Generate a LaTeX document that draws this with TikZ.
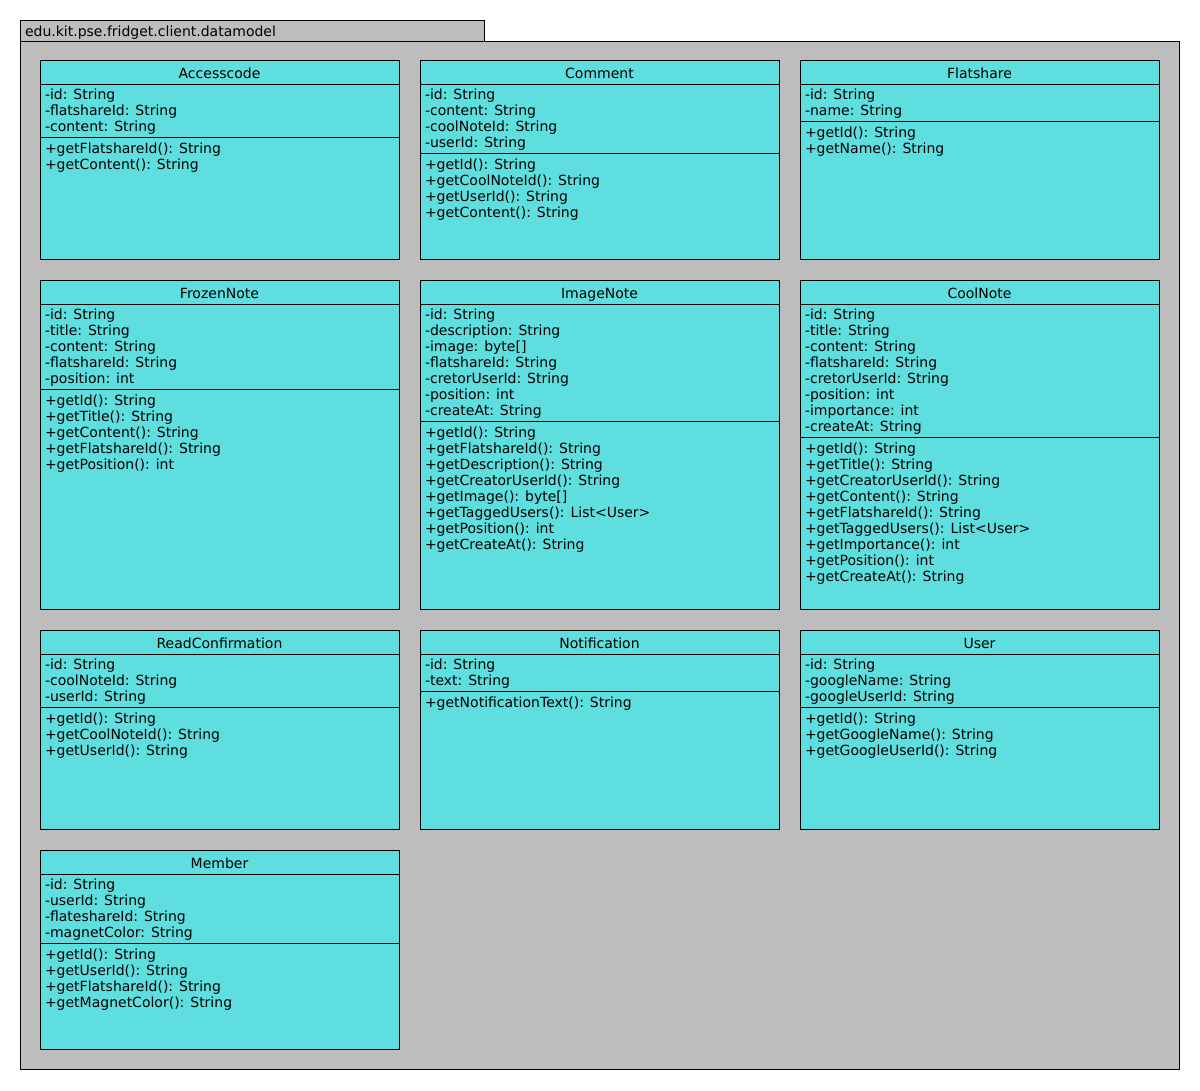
\documentclass[tikz,border=0pt]{standalone}
\usepackage{fontspec}
\setmainfont{DejaVu Sans}
\definecolor{clsfill}{HTML}{5EDEDE}
\definecolor{pkgfill}{HTML}{BDBDBD}
\tikzset{
  umltext/.style={font=\fontsize{10.5}{12}\selectfont, inner sep=0pt, outer sep=0pt},
  clsbox/.style={draw=black, fill=clsfill, line width=0.75pt, inner sep=0pt, anchor=north west, minimum width=269.25pt},
  pkgbox/.style={draw=black, fill=pkgfill, line width=0.75pt, inner sep=0pt, anchor=north west},
  sepline/.style={line width=0.75pt},
}
% #1 name, #2 x, #3 y, #4 h, #5 title, #6 nattr, #7 attrs, #8 methods
\newcommand{\umlclass}[8]{%
  \node[clsbox, minimum height={#4*0.75pt}] (#1) at (#2,#3) {};
  \node[umltext, anchor=base] (#1-title) at ({#2+179.5},{#3+18}) {#5};
  \draw[sepline] (#2,{#3+24}) -- ({#2+359},{#3+24});
  \draw[sepline] (#2,{#3+24+#6*16+5}) -- ({#2+359},{#3+24+#6*16+5});
  \foreach \lbl [count=\i] in {#7} {\node[umltext, anchor=base west] (#1-a\i) at ({#2+5},{#3+24+15.5+(\i-1)*16}) {\lbl};}
  \foreach \lbl [count=\i] in {#8} {\node[umltext, anchor=base west] (#1-m\i) at ({#2+5},{#3+24+#6*16+5+16.5+(\i-1)*16}) {\lbl};}
}
\begin{document}
\begin{tikzpicture}[x=0.75pt,y=-0.75pt]
\fill[white] (0,0) rectangle (1200,1090);
\useasboundingbox (0,0) rectangle (1200,1090);
\node[pkgbox, minimum width={464*0.75pt}, minimum height={21*0.75pt}] (pkgtab) at (20,20) {};
\node[pkgbox, minimum width={1159*0.75pt}, minimum height={1028*0.75pt}] (pkg) at (20,41) {};
\node[umltext, anchor=base west] (pkgname) at (25,36) {edu.kit.pse.fridget.client.datamodel};

\umlclass{accesscode}{40}{60}{199}{Accesscode}{3}
  {{-id: String},{-flatshareId: String},{-content: String}}
  {{+getFlatshareId(): String},{+getContent(): String}}
\umlclass{comment}{420}{60}{199}{Comment}{4}
  {{-id: String},{-content: String},{-coolNoteId: String},{-userId: String}}
  {{+getId(): String},{+getCoolNoteId(): String},{+getUserId(): String},{+getContent(): String}}
\umlclass{flatshare}{800}{60}{199}{Flatshare}{2}
  {{-id: String},{-name: String}}
  {{+getId(): String},{+getName(): String}}

\umlclass{frozennote}{40}{280}{329}{FrozenNote}{5}
  {{-id: String},{-title: String},{-content: String},{-flatshareId: String},{-position: int}}
  {{+getId(): String},{+getTitle(): String},{+getContent(): String},{+getFlatshareId(): String},{+getPosition(): int}}
\umlclass{imagenote}{420}{280}{329}{ImageNote}{7}
  {{-id: String},{-description: String},{-image: byte[]},{-flatshareId: String},{-cretorUserId: String},{-position: int},{-createAt: String}}
  {{+getId(): String},{+getFlatshareId(): String},{+getDescription(): String},{+getCreatorUserId(): String},{+getImage(): byte[]},{+getTaggedUsers(): List<User>},{+getPosition(): int},{+getCreateAt(): String}}
\umlclass{coolnote}{800}{280}{329}{CoolNote}{8}
  {{-id: String},{-title: String},{-content: String},{-flatshareId: String},{-cretorUserId: String},{-position: int},{-importance: int},{-createAt: String}}
  {{+getId(): String},{+getTitle(): String},{+getCreatorUserId(): String},{+getContent(): String},{+getFlatshareId(): String},{+getTaggedUsers(): List<User>},{+getImportance(): int},{+getPosition(): int},{+getCreateAt(): String}}

\umlclass{readconf}{40}{630}{199}{ReadConfirmation}{3}
  {{-id: String},{-coolNoteId: String},{-userId: String}}
  {{+getId(): String},{+getCoolNoteId(): String},{+getUserId(): String}}
\umlclass{notification}{420}{630}{199}{Notification}{2}
  {{-id: String},{-text: String}}
  {{+getNotificationText(): String}}
\umlclass{user}{800}{630}{199}{User}{3}
  {{-id: String},{-googleName: String},{-googleUserId: String}}
  {{+getId(): String},{+getGoogleName(): String},{+getGoogleUserId(): String}}

\umlclass{member}{40}{850}{199}{Member}{4}
  {{-id: String},{-userId: String},{-flateshareId: String},{-magnetColor: String}}
  {{+getId(): String},{+getUserId(): String},{+getFlatshareId(): String},{+getMagnetColor(): String}}
\end{tikzpicture}
\end{document}
